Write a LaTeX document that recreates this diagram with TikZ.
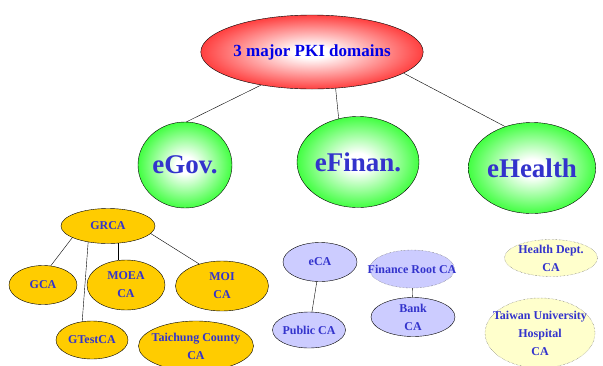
\documentclass[tikz,border=0pt]{standalone}
\usepackage{fontspec}
\setmainfont{Liberation Serif}
\usetikzlibrary{shapes}
\definecolor{txtblue}{RGB}{51,51,204}
\definecolor{gold}{RGB}{255,204,0}
\definecolor{lavender}{RGB}{204,204,255}
\definecolor{paleyellow}{RGB}{255,255,204}
\pgfdeclareradialshading{redglow}{\pgfpoint{0bp}{0bp}}{color(0bp)=(white); color(4bp)=(white); color(32bp)=(red); color(50bp)=(red)}
\pgfdeclareradialshading{greenglow}{\pgfpoint{0bp}{0bp}}{color(0bp)=(white); color(5bp)=(white); color(32bp)=(green); color(50bp)=(green)}
\tikzset{
  lbl/.style={text=txtblue,font=\fontsize{12}{18}\selectfont\bfseries,align=center},
  ca/.style={draw,ellipse,inner sep=0pt,thin},
  gov/.style={ca,fill=gold},
  fin/.style={ca,fill=lavender},
  hlt/.style={ca,fill=paleyellow,draw=black!65,densely dotted},
  pkidomain/.style={draw,ellipse,inner sep=0pt,shading=greenglow,text=txtblue,font=\fontsize{27}{30}\selectfont\bfseries}
}

\begin{document}
\begin{tikzpicture}[x=1pt,y=-1pt]
\useasboundingbox (0,0) rectangle (603,365);

\node[draw,ellipse,inner sep=0pt,shading=redglow,minimum width=192pt,minimum height=74pt,text={rgb,255:red,0;green,0;blue,230},font=\fontsize{17}{20}\selectfont\bfseries] (PKI) at (312,52) {3 major PKI domains};

\node[pkidomain,minimum width=94pt,minimum height=86pt] (GOV) at (185,165) {eGov.};
\node[pkidomain,minimum width=109pt,minimum height=91pt] (FIN) at (358,162) {eFinan.};
\node[pkidomain,minimum width=114pt,minimum height=91pt] (HLT) at (532,168) {eHealth};

\draw (PKI.213) -- (GOV.88);
\draw (PKI.303) -- (FIN.114);
\draw (PKI.347) -- (HLT.123);

% eGov. branch
\node[gov,minimum width=94pt,minimum height=35pt,label={[lbl]center:GRCA}] (GRCA) at (108,226) {};
\node[gov,minimum width=68pt,minimum height=39pt,label={[lbl]center:GCA}] (GCA) at (43,285) {};
\node[gov,minimum width=78pt,minimum height=50pt,label={[lbl]center:MOEA\\CA}] (MOEA) at (126,285) {};
\node[gov,minimum width=93pt,minimum height=50pt,label={[lbl]center:MOI\\CA}] (MOI) at (222,286) {};
\node[gov,minimum width=72pt,minimum height=38pt,label={[lbl]center:GTestCA}] (GTEST) at (92,340) {};
\node[gov,minimum width=115pt,minimum height=50pt,label={[lbl]center:Taichung County\\CA}] (TCC) at (196,346) {};

\draw (GRCA.198) -- (GCA.68);
\draw (GRCA.219) -- (GTEST.118);
\draw (GRCA.300) -- (GRCA.300 |- MOEA.north);
\draw (GRCA.350) -- (MOI.136);

% eFinan. branch
\node[fin,minimum width=74pt,minimum height=39pt,label={[lbl]center:eCA}] (ECA) at (320,262) {};
\node[fin,minimum width=73pt,minimum height=36pt,label={[lbl]center:Public CA}] (PUB) at (309,330) {};
\node[fin,densely dotted,draw=black!65,minimum width=85pt,minimum height=38pt,label={[lbl]center:Finance Root CA}] (FRCA) at (412,269) {};
\node[fin,minimum width=84pt,minimum height=39pt,label={[lbl]center:Bank\\CA}] (BANK) at (413,317) {};

\draw (ECA) -- (PUB);
\draw (FRCA) -- (BANK);

% eHealth branch
\node[hlt,minimum width=93pt,minimum height=37pt,label={[lbl]center:Health Dept.\\CA}] (HDCA) at (551,258) {};
\node[hlt,minimum width=110pt,minimum height=70pt,label={[lbl]center:Taiwan University\\Hospital\\CA}] (NTUH) at (540,333) {};
\end{tikzpicture}
\end{document}
